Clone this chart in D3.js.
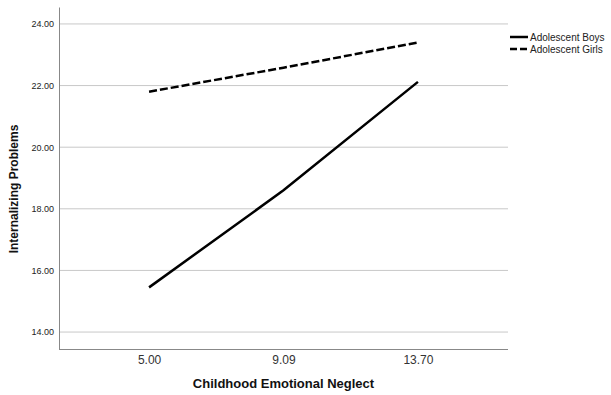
<!DOCTYPE html>
<html>
<head>
<meta charset="utf-8">
<script src="https://cdn.jsdelivr.net/npm/d3@7"></script>
<style>
  body { margin: 0; background: #fff; }
  svg { display: block; font-family: "Liberation Sans", Arial, sans-serif; }
</style>
</head>
<body>
<svg id="chart" width="611" height="395"></svg>
<script>
// categories on the x axis
const neglectLevels = ['5.00', '9.09', '13.70'];
// series values
const boysValues = [15.45, 18.6, 22.12];
const girlsValues = [21.8, 22.58, 23.4];
const yTicks = [14, 16, 18, 20, 22, 24];
const seriesNames = ['Adolescent Boys', 'Adolescent Girls'];

const svg = d3.select('#chart');
const plotLeft = 59, plotRight = 508, plotTop = 7, plotBottom = 349;

const x = d3.scalePoint()
    .domain(neglectLevels)
    .range([plotLeft, plotRight])
    .padding(0.67);

const y = d3.scaleLinear()
    .domain([13.45, 24.55])
    .range([plotBottom, plotTop]);

// gridlines
svg.append('g')
    .selectAll('line')
    .data(yTicks)
    .enter()
    .append('line')
    .attr('x1', plotLeft)
    .attr('x2', plotRight)
    .attr('y1', d => y(d))
    .attr('y2', d => y(d))
    .attr('stroke', '#c8c8c8')
    .attr('stroke-width', 1);

// y axis
const yAxis = svg.append('g')
    .attr('transform', `translate(${plotLeft},0)`)
    .call(d3.axisLeft(y).tickValues(yTicks).tickFormat(d3.format('.2f')).tickSize(0).tickPadding(5));
yAxis.select('.domain').attr('stroke', '#888');
yAxis.selectAll('text').attr('font-size', 9).attr('fill', '#222');

// x axis
const xAxis = svg.append('g')
    .attr('transform', `translate(0,${plotBottom})`)
    .call(d3.axisBottom(x).tickSize(0).tickPadding(6));
xAxis.select('.domain').attr('stroke', '#888').attr('d', `M${plotLeft},0.5H${plotRight}`);
xAxis.selectAll('text').attr('font-size', 12).attr('fill', '#333');

// lines
const line = d3.line()
    .x((d, i) => x(neglectLevels[i]))
    .y(d => y(d));

svg.append('path')
    .datum(boysValues)
    .attr('d', line)
    .attr('fill', 'none')
    .attr('stroke', '#000')
    .attr('stroke-width', 2.5);

svg.append('path')
    .datum(girlsValues)
    .attr('d', line)
    .attr('fill', 'none')
    .attr('stroke', '#000')
    .attr('stroke-width', 2.5)
    .attr('stroke-dasharray', '8,3');

// axis titles
svg.append('text')
    .attr('x', (plotLeft + plotRight) / 2)
    .attr('y', 388)
    .attr('text-anchor', 'middle')
    .attr('font-size', 13)
    .attr('font-weight', 'bold')
    .attr('fill', '#111')
    .text('Childhood Emotional Neglect');

svg.append('text')
    .attr('transform', 'translate(18,189) rotate(-90)')
    .attr('text-anchor', 'middle')
    .attr('font-size', 12)
    .attr('font-weight', 'bold')
    .attr('fill', '#111')
    .text('Internalizing Problems');

// legend
const legend = svg.append('g').attr('transform', 'translate(510,37)');
seriesNames.forEach((name, i) => {
    const g = legend.append('g').attr('transform', `translate(0,${i * 12})`);
    g.append('line')
        .attr('x1', 0).attr('x2', 18)
        .attr('y1', 0).attr('y2', 0)
        .attr('stroke', '#000')
        .attr('stroke-width', 2.5)
        .attr('stroke-dasharray', i === 1 ? '7,3' : null);
    g.append('text')
        .attr('x', 20)
        .attr('y', 3.5)
        .attr('font-size', 10)
        .attr('fill', '#222')
        .text(name);
});
</script>
</body>
</html>
